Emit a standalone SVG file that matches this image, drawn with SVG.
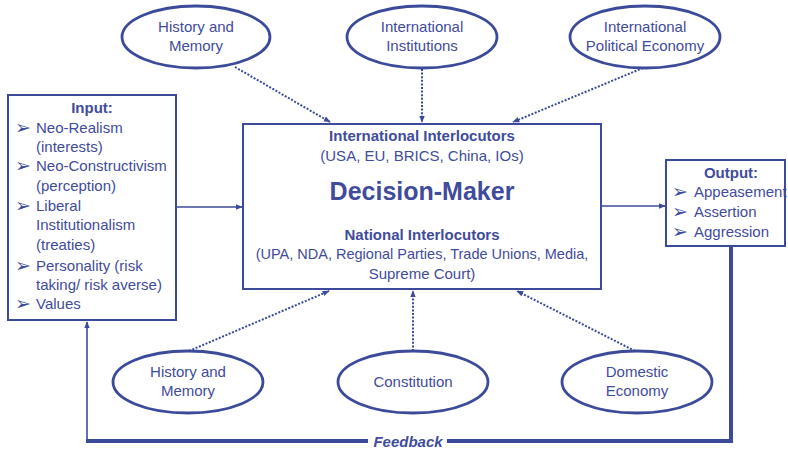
<svg xmlns="http://www.w3.org/2000/svg" width="788" height="449" viewBox="0 0 788 449">
<defs>
<style>
.box{fill:#fff;stroke:#3c4a9a;stroke-width:2}
.ell{fill:#fff;stroke:#3c4a9a;stroke-width:2.8}
.t{font-family:"Liberation Sans",Arial,sans-serif;font-size:15px;fill:#3f4c9c}
.c{text-anchor:middle}
.b{font-weight:bold}
.bul{font-family:"DejaVu Sans",sans-serif;font-size:19px;fill:#3f4c9c}
.dot{fill:none;stroke:#3c4a9a;stroke-width:2;stroke-dasharray:2 1.6}
.ln{fill:none;stroke:#3c4a9a;stroke-width:1.6}
.fb{fill:none;stroke:#3c4a9a;stroke-width:4}
</style>
<marker id="ah2" viewBox="0 0 10 10" refX="9" refY="5" markerWidth="7" markerHeight="7" orient="auto" markerUnits="userSpaceOnUse">
<path d="M0,1 L10,5 L0,9 z" fill="#3c4a9a"/>
</marker>
</defs>

<g id="connectors">
<line class="dot" x1="235" y1="67" x2="330" y2="122" marker-end="url(#ah2)"/>
<line class="dot" x1="422" y1="69" x2="422" y2="122" marker-end="url(#ah2)"/>
<line class="dot" x1="643" y1="68" x2="513" y2="122" marker-end="url(#ah2)"/>
<line class="dot" x1="189" y1="351" x2="329" y2="291" marker-end="url(#ah2)"/>
<line class="dot" x1="413" y1="351" x2="413" y2="291" marker-end="url(#ah2)"/>
<line class="dot" x1="635" y1="351" x2="517" y2="291" marker-end="url(#ah2)"/>
<line class="ln" x1="176" y1="207" x2="242" y2="207" marker-end="url(#ah2)"/>
<line class="ln" x1="601" y1="206" x2="665" y2="206" marker-end="url(#ah2)"/>
<polyline class="fb" points="731,246 731,441 447,441"/>
<line class="fb" x1="368" y1="441" x2="86" y2="441"/>
<line class="ln" x1="87" y1="441" x2="87" y2="322" marker-end="url(#ah2)"/>
<text class="t b c" x="408" y="447" font-style="italic">Feedback</text>
</g>

<g id="input">
<rect class="box" x="8" y="95" width="168" height="225"/>
<text class="t b c" x="92" y="113">Input:</text>
<text class="bul" x="15" y="134">➢</text>
<text class="t" x="36" y="133">Neo-Realism</text>
<text class="t" x="36" y="152">(interests)</text>
<text class="bul" x="15" y="172">➢</text>
<text class="t" x="36" y="171">Neo-Constructivism</text>
<text class="t" x="36" y="191">(perception)</text>
<text class="bul" x="15" y="212">➢</text>
<text class="t" x="36" y="211">Liberal</text>
<text class="t" x="36" y="230">Institutionalism</text>
<text class="t" x="36" y="250">(treaties)</text>
<text class="bul" x="15" y="272">➢</text>
<text class="t" x="36" y="271">Personality (risk</text>
<text class="t" x="36" y="290">taking/ risk averse)</text>
<text class="bul" x="15" y="310">➢</text>
<text class="t" x="36" y="309">Values</text>
</g>

<g id="decision-maker">
<rect class="box" x="243" y="124" width="358" height="165"/>
<text class="t b c" x="422" y="141">International Interlocutors</text>
<text class="t c" x="422" y="161">(USA, EU, BRICS, China, IOs)</text>
<text class="t b c" x="422" y="200" style="font-size:25px">Decision-Maker</text>
<text class="t b c" x="422" y="240">National Interlocutors</text>
<text class="t c" x="422" y="259" style="font-size:14.5px">(UPA, NDA, Regional Parties, Trade Unions, Media,</text>
<text class="t c" x="422" y="279">Supreme Court)</text>
</g>

<g id="output">
<rect class="box" x="666" y="160" width="119" height="86"/>
<text class="t b c" x="731" y="178">Output:</text>
<text class="bul" x="672" y="198">➢</text>
<text class="t" x="694" y="197">Appeasement</text>
<text class="bul" x="672" y="218">➢</text>
<text class="t" x="694" y="217">Assertion</text>
<text class="bul" x="672" y="238">➢</text>
<text class="t" x="694" y="237">Aggression</text>
</g>

<g id="history-top">
<ellipse class="ell" cx="196" cy="37" rx="74" ry="31"/>
<text class="t c" x="196" y="32">History and</text>
<text class="t c" x="196" y="51">Memory</text>
</g>
<g id="intl-institutions">
<ellipse class="ell" cx="422" cy="37" rx="75" ry="31"/>
<text class="t c" x="422" y="32">International</text>
<text class="t c" x="422" y="51">Institutions</text>
</g>
<g id="intl-political-economy">
<ellipse class="ell" cx="645" cy="37" rx="75" ry="31"/>
<text class="t c" x="645" y="32">International</text>
<text class="t c" x="645" y="51">Political Economy</text>
</g>
<g id="history-bottom">
<ellipse class="ell" cx="188" cy="382" rx="75" ry="31"/>
<text class="t c" x="188" y="377">History and</text>
<text class="t c" x="188" y="396">Memory</text>
</g>
<g id="constitution">
<ellipse class="ell" cx="413" cy="382" rx="75" ry="31"/>
<text class="t c" x="413" y="387">Constitution</text>
</g>
<g id="domestic-economy">
<ellipse class="ell" cx="637" cy="382" rx="75" ry="31"/>
<text class="t c" x="637" y="377">Domestic</text>
<text class="t c" x="637" y="396">Economy</text>
</g>
</svg>
